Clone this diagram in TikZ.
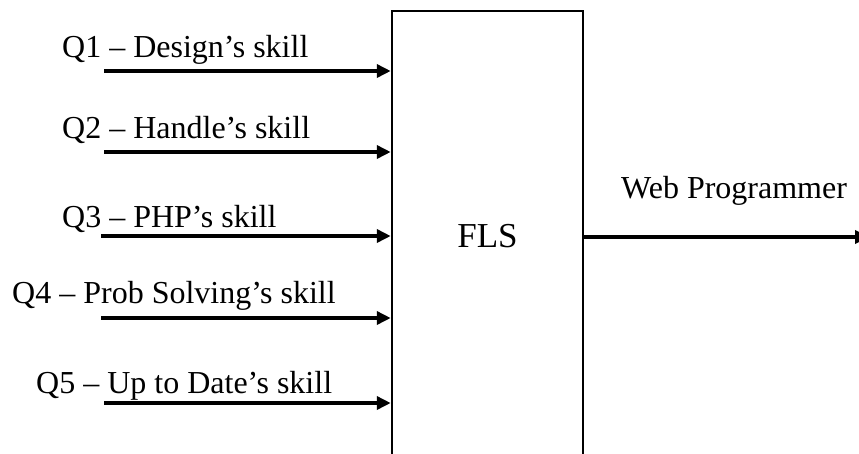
\documentclass[tikz,border=0pt]{standalone}
\usepackage{fontspec}
\setmainfont{Liberation Serif}
\usetikzlibrary{positioning}
\usetikzlibrary{arrows.meta}
\tikzset{>={Triangle[length=14pt,width=13pt]}}
\tikzset{
	% labels of the inputs and the output
	qlabel/.style={anchor=base west,inner sep=0pt,font=\fontsize{32}{38}\selectfont},
	% arrows
	qarrow/.style={->,line width=3.5pt},
	% the block
	flsbox/.style={draw,line width=2.5pt,minimum width=191pt,minimum height=450pt,inner sep=0pt,font=\fontsize{35}{42}\selectfont},
}

\begin{document}
\begin{tikzpicture}[x=1pt,y=-1pt]
	\useasboundingbox (0,0) rectangle (859,453);
	\clip (0,0) rectangle (859,453);
	
	\node[flsbox] (fls) at (487.5,236) {FLS};
	
	\coordinate (q1) at (104,71);
	\coordinate (q2) at (104,152);
	\coordinate (q3) at (101,236);
	\coordinate (q4) at (101,318);
	\coordinate (q5) at (104,403);
	
	\node[qlabel] (l1) at (62,57) {Q1 – Design’s skill};
	\node[qlabel] (l2) at (62,138) {Q2 – Handle’s skill};
	\node[qlabel] (l3) at (62,227) {Q3 – PHP’s skill};
	\node[qlabel] (l4) at (12,303) {Q4 – Prob Solving’s skill};
	\node[qlabel] (l5) at (36,393) {Q5 – Up to Date’s skill};
	
	\draw[qarrow] (q1) -- (q1 -| fls.west);
	\draw[qarrow] (q2) -- (q2 -| fls.west);
	\draw[qarrow] (q3) -- (q3 -| fls.west);
	\draw[qarrow] (q4) -- (q4 -| fls.west);
	\draw[qarrow] (q5) -- (q5 -| fls.west);
	
	\coordinate (out) at (869,237);
	\node[qlabel] (lout) at (621,198) {Web Programmer};
	\draw[qarrow] (fls.east |- out) -- (out);
	
\end{tikzpicture}
\end{document}
